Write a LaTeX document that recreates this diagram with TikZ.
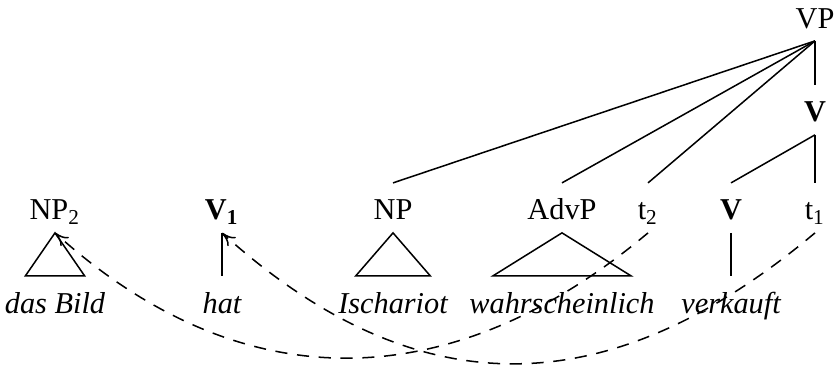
\documentclass[tikz,border=0pt]{standalone}
\usepackage{fontspec}
\setmainfont{Liberation Serif}
\usetikzlibrary{arrows.meta}

\begin{document}
\begin{tikzpicture}[>={To[length=4.5pt,width=4pt]},line width=0.5pt,
    cat/.style={anchor=base,inner sep=2pt,text height=10pt,text depth=2pt},
    leaf/.style={cat,font=\itshape},
    move/.style={dash pattern=on 4pt off 3.2pt,->}]
  \useasboundingbox (0,0) rectangle (9.686,4.269);
  \node[cat] (vp) at (9.454,3.944) {VP};
  \node[cat] (vbar) at (9.454,2.854) {\textbf{V}};
  \node[cat] (np2) at (0.638,1.717) {NP\textsubscript{2}};
  \node[cat] (v1) at (2.575,1.717) {\textbf{V}\textsubscript{\textbf{1}}};
  \node[cat] (np) at (4.559,1.717) {NP};
  \node[cat] (advp) at (6.519,1.717) {AdvP};
  \node[cat] (t2) at (7.517,1.717) {t\textsubscript{2}};
  \node[cat] (v) at (8.480,1.717) {\textbf{V}};
  \node[cat] (t1) at (9.454,1.717) {t\textsubscript{1}};
  \node[leaf] (bild) at (0.638,0.638) {das Bild};
  \node[leaf] (hat) at (2.575,0.638) {hat};
  \node[leaf] (isch) at (4.559,0.638) {Ischariot};
  \node[leaf] (wahr) at (6.519,0.638) {wahrscheinlich};
  \node[leaf] (verk) at (8.480,0.638) {verkauft};
  \draw (vp.south)--(np.north); \draw (vp.south)--(advp.north);
  \draw (vp.south)--(t2.north); \draw (vp.south)--(vbar.north);
  \draw (vbar.south)--(v.north); \draw (vbar.south)--(t1.north);
  \draw (np2.south)--([xshift=9pt]bild.north west)--([xshift=-9pt]bild.north east)--cycle;
  \draw (np.south)--([xshift=8pt]isch.north west)--([xshift=-8pt]isch.north east)--cycle;
  \draw (advp.south)--([xshift=10pt]wahr.north west)--([xshift=-10pt]wahr.north east)--cycle;
  \draw (v1.south)--(hat.north);
  \draw (v.south)--(verk.north);
  \draw[move] (t2.south) to[out=-140,in=-42,looseness=1.1] (np2.south);
  \draw[move] (t1.south) to[out=-140,in=-42,looseness=1.15] (v1.south);
\end{tikzpicture}
\end{document}
